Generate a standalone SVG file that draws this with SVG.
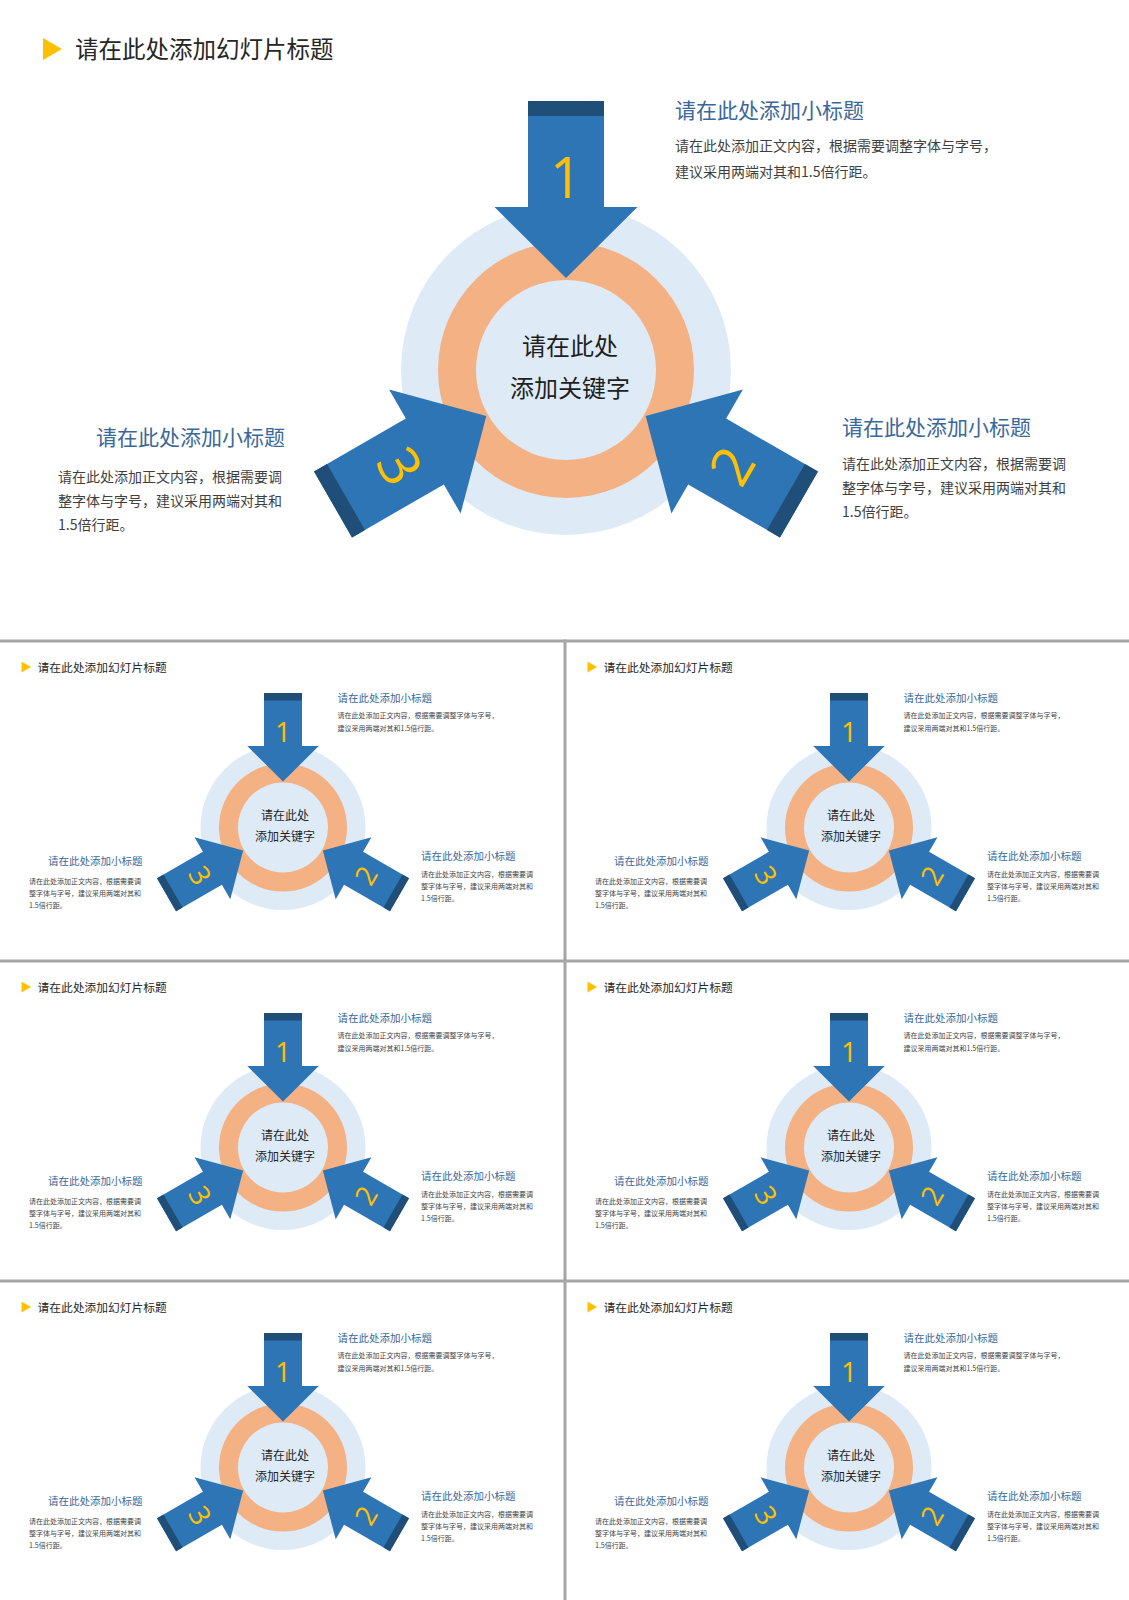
<svg xmlns="http://www.w3.org/2000/svg" xmlns:xlink="http://www.w3.org/1999/xlink" width="1129" height="1600" viewBox="0 0 1129 1600">
  <style>
    .cjk { font-family: "Noto Sans CJK SC", "Noto Sans", sans-serif; }
    .title { font-size: 23.5px; fill: #262626; }
    .sub { font-size: 21px; fill: #3A6898; }
    .body { font-size: 14px; fill: #3F3F3F; }
    .center { font-size: 24px; fill: #1F1F1F; text-anchor: middle; }
    .num { font-family: "Open Sans", "Liberation Sans", sans-serif; font-weight: 400; font-size: 56px; fill: #FFC000; text-anchor: middle; }
    .arrow { fill: #2E75B6; }
    .band { fill: #1F4E79; }
    .sep { fill: #A6A6A6; }
  </style>
  <defs>
    <g id="arrowShape">
      <path class="arrow" d="M528,101 H604 V207 H637.5 L566,278 L494.5,207 H528 Z"/>
      <rect class="band" x="528" y="101" width="76" height="15"/>
    </g>
  </defs>
  <rect width="1129" height="1600" fill="#FFFFFF"/>

  <g id="main-slide">
    <g id="slide-title">
      <polygon points="43,38 62,49 43,60" fill="#FFC000"/>
      <text class="cjk title" x="75" y="58">请在此处添加幻灯片标题</text>
    </g>

    <g id="hub">
      <circle cx="566" cy="370" r="165" fill="#DEEBF7"/>
      <circle cx="566" cy="370" r="128" fill="#F4B183"/>
      <circle cx="566" cy="370" r="90" fill="#DEEBF7"/>
      <text class="cjk center" x="570" y="355">请在此处</text>
      <text class="cjk center" x="570" y="397">添加关键字</text>
    </g>

    <g id="arrow-1">
      <use xlink:href="#arrowShape" href="#arrowShape"/>
      <text class="num" x="566" y="198">1</text>
    </g>
    <g id="arrow-2" transform="rotate(120 566 370)">
      <use xlink:href="#arrowShape" href="#arrowShape"/>
      <text class="num" x="566" y="198" transform="rotate(180 566 178)">2</text>
    </g>
    <g id="arrow-3" transform="rotate(240 566 370)">
      <use xlink:href="#arrowShape" href="#arrowShape"/>
      <text class="num" x="566" y="198" transform="rotate(180 566 178)">3</text>
    </g>

    <g id="text-1">
      <text class="cjk sub" x="675" y="118">请在此处添加小标题</text>
      <text class="cjk body" x="675" y="151">请在此处添加正文内容，根据需要调整字体与字号，</text>
      <text class="cjk body" x="675" y="177">建议采用两端对其和1.5倍行距。</text>
    </g>
    <g id="text-2">
      <text class="cjk sub" x="842" y="435">请在此处添加小标题</text>
      <text class="cjk body" x="842" y="469">请在此处添加正文内容，根据需要调</text>
      <text class="cjk body" x="842" y="493">整字体与字号，建议采用两端对其和</text>
      <text class="cjk body" x="842" y="517">1.5倍行距。</text>
    </g>
    <g id="text-3">
      <text class="cjk sub" x="285" y="445" text-anchor="end">请在此处添加小标题</text>
      <text class="cjk body" x="58" y="482">请在此处添加正文内容，根据需要调</text>
      <text class="cjk body" x="58" y="506">整字体与字号，建议采用两端对其和</text>
      <text class="cjk body" x="58" y="530">1.5倍行距。</text>
    </g>
  </g>

  <g id="thumbnails">
    <use id="thumb-1" xlink:href="#main-slide" href="#main-slide" transform="translate(0,642.5) scale(0.5)"/>
    <use id="thumb-2" xlink:href="#main-slide" href="#main-slide" transform="translate(566,642.5) scale(0.5)"/>
    <use id="thumb-3" xlink:href="#main-slide" href="#main-slide" transform="translate(0,962.5) scale(0.5)"/>
    <use id="thumb-4" xlink:href="#main-slide" href="#main-slide" transform="translate(566,962.5) scale(0.5)"/>
    <use id="thumb-5" xlink:href="#main-slide" href="#main-slide" transform="translate(0,1282.5) scale(0.5)"/>
    <use id="thumb-6" xlink:href="#main-slide" href="#main-slide" transform="translate(566,1282.5) scale(0.5)"/>
  </g>

  <g id="separators">
    <rect class="sep" x="0" y="639.5" width="1129" height="3"/>
    <rect class="sep" x="0" y="959.5" width="1129" height="3"/>
    <rect class="sep" x="0" y="1279.5" width="1129" height="3"/>
    <rect class="sep" x="563.5" y="639.5" width="3" height="960.5"/>
  </g>
</svg>
